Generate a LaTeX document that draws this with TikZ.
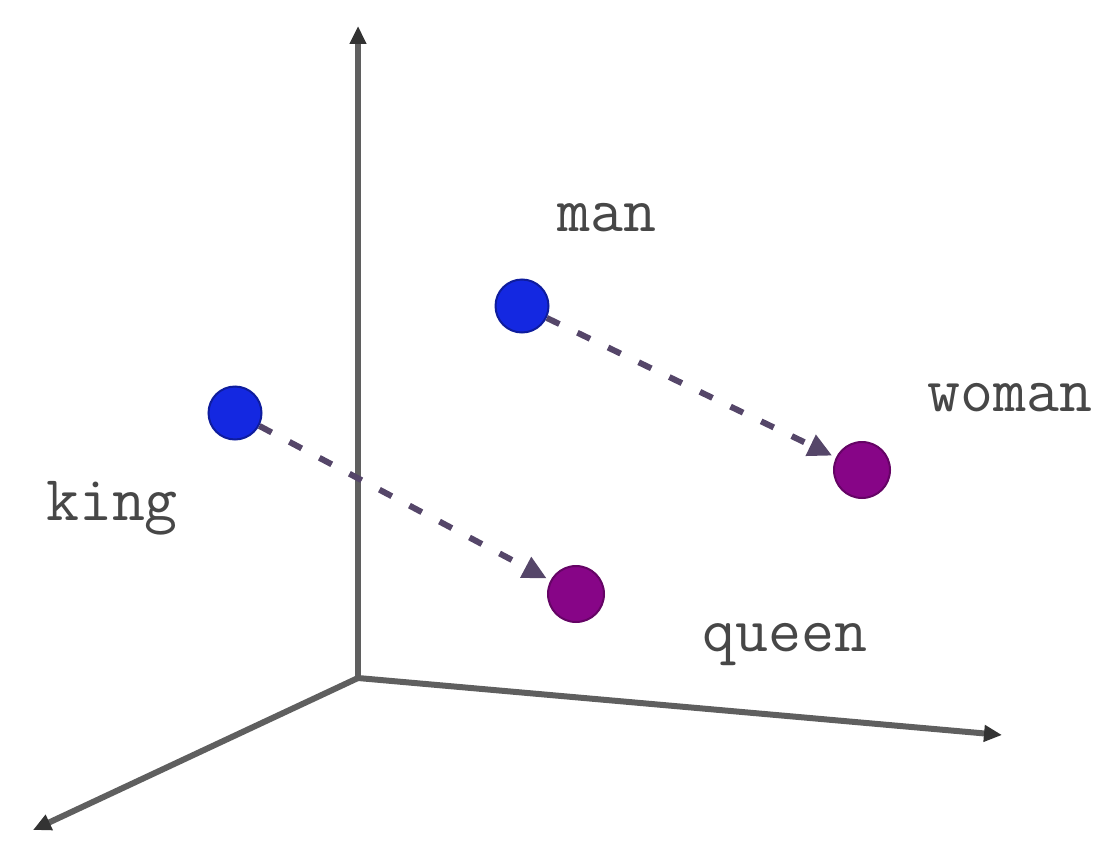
\documentclass[tikz,border=0pt]{standalone}
\usepackage{fontspec}
\usetikzlibrary{arrows.meta}
\definecolor{axisgray}{RGB}{95,95,95}
\definecolor{dotblue}{RGB}{20,40,225}
\definecolor{dotpurple}{RGB}{135,5,135}
\definecolor{arrowcol}{RGB}{85,70,105}
\begin{document}
\begin{tikzpicture}[x=0.5pt,y=-0.5pt,
  axis/.style={draw=axisgray,line width=3pt,-{Triangle[length=9pt,width=8pt,fill=black!80,color=black!80]}},
  blueDot/.style={circle,fill=dotblue,draw=dotblue!70!black,line width=1pt,minimum size=26.5pt,inner sep=0pt},
  purpleDot/.style={circle,fill=dotpurple,draw=dotpurple!75!black,line width=1pt,minimum size=28pt,inner sep=0pt},
  vec/.style={draw=arrowcol,line width=3pt,dash pattern=on 7pt off 10pt,-{Triangle[length=12pt,width=11pt]},shorten >=2pt},
  word/.style={font=\ttfamily\fontsize{32}{34}\selectfont,text=black!72,inner sep=0pt}]
\useasboundingbox (0,0) rectangle (1096,856);
\coordinate (O) at (358,678);
\coordinate (ztop) at (358,26);
\coordinate (xend) at (1002,735);
\coordinate (yend) at (33,830);
\draw[axis] (O) -- (ztop);
\draw[axis] (O) -- (xend);
\draw[axis] (O) -- (yend);
\node[blueDot] (man) at (522,306) {};
\node[blueDot] (king) at (235,413) {};
\node[purpleDot] (woman) at (862,470) {};
\node[purpleDot] (queen) at (576,594) {};
\draw[vec] (man) -- (woman);
\draw[vec] (king) -- (queen);
\node[word] (lman) at (607,218) {man};
\node[word] (lwoman) at (1010,398) {woman};
\node[word] (lking) at (112,508) {king};
\node[word] (lqueen) at (785,645) {queen};
\end{tikzpicture}
\end{document}
